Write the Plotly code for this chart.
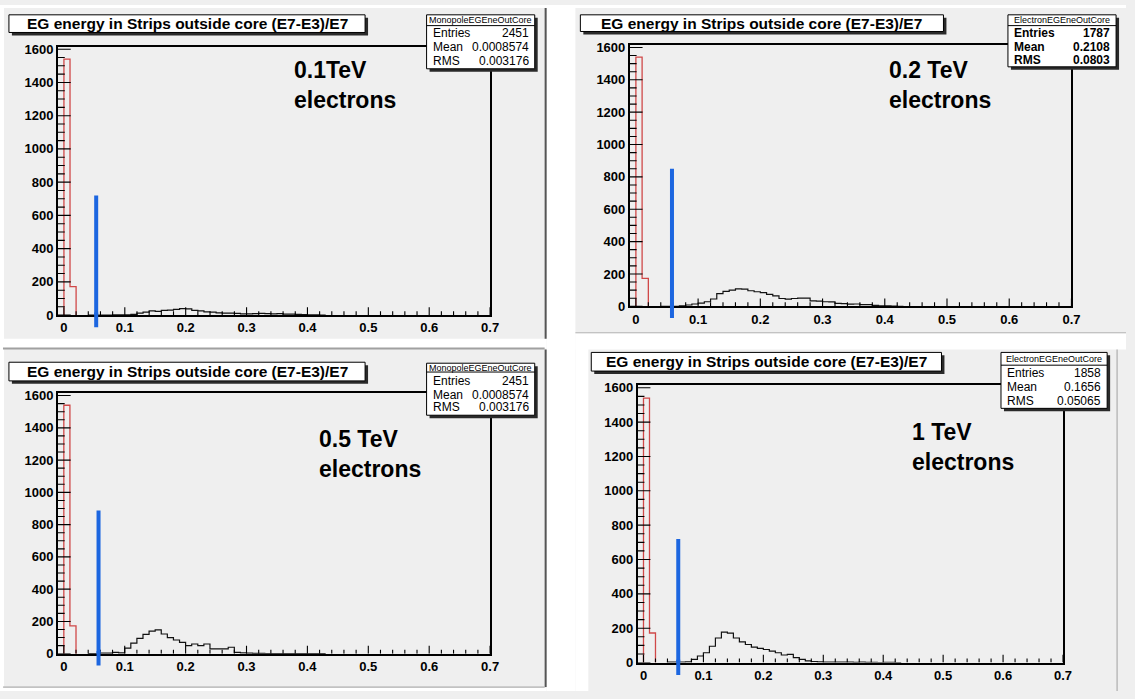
import plotly.graph_objects as go

W, H = 1135, 699

# ---- data -------------------------------------------------------------
BIN_WIDTH = 0.01
MONO_START = 0.0
ELEC_START = 0.04

# monopole reference histogram (red), identical in every pad
monopole_counts = [1540, 172]

# electron histograms (black), 0.01-wide bins starting at 0.04
electron_01tev = [0, 0, 0, 0, 1, 2, 2, 4, 12, 18, 25, 22, 28, 30, 34, 39, 38, 28, 26, 20,
                  18, 14, 12, 12, 10, 8, 7, 9, 11, 9, 7, 9, 6, 6, 4, 3, 2, 1, 0]
electron_02tev = [0, 0, 0, 3, 8, 14, 20, 28, 45, 78, 92, 100, 108, 106, 96, 90, 84, 74, 64, 48,
                  44, 48, 50, 50, 34, 32, 28, 27, 18, 16, 13, 14, 10, 10, 6, 3, 2, 1, 0]
electron_05tev = [0, 0, 4, 3, 8, 5, 35, 65, 95, 120, 140, 148, 122, 100, 85, 70, 50, 60, 50, 60,
                  30, 30, 30, 40, 8, 5, 3, 2, 2, 1, 1, 1, 0, 1, 0, 0, 0, 0, 0]
electron_1tev = [2, 3, 3, 4, 19, 38, 57, 95, 143, 177, 171, 143, 120, 105, 90, 82, 76, 67, 57, 44,
                 48, 29, 19, 10, 6, 4, 3, 3, 2, 2, 2, 1, 2, 1, 1, 0, 1, 1, 0]
electron_sets = [electron_01tev, electron_02tev, electron_05tev, electron_1tev]

# cut position and height of the blue marker
cut_positions = [0.053, 0.058, 0.057, 0.058]
cut_heights = [720, 850, 888, 720]

energy_labels = ["0.1TeV", "0.2 TeV", "0.5 TeV", "1 TeV"]
hist_names = ["MonopoleEGEneOutCore", "ElectronEGEneOutCore",
              "MonopoleEGEneOutCore", "ElectronEGEneOutCore"]
stat_entries = ["2451", "1787", "2451", "1858"]
stat_means = ["0.0008574", "0.2108", "0.0008574", "0.1656"]
stat_rms = ["0.003176", "0.0803", "0.003176", "0.05065"]

TITLE = "EG energy in Strips outside core (E7-E3)/E7"
X_RANGE = [-0.01, 0.7]
Y_MAX = 1615

# tick layout of the ROOT-style frame
X_MAJOR = [k / 10 for k in range(0, 8)]
X_MINOR = [k / 100 for k in range(0, 71, 2) if k % 10 != 0]
Y_MAJOR = list(range(0, 1601, 200))
Y_MINOR = [v for v in range(0, 1601, 50) if v % 200 != 0]

# ---- pad geometry (pixels) -------------------------------------------
pads = [
    dict(frame=(58.3, 42.5, 494.0, 316.0),
         title=(9, 10, 368, 28), stats=(430, 10, 539, 65), sep=21, rows=(29, 43, 57),
         note=(294, 82), stat_weight="normal",
         lines=[(550, 3, 550, 340, "#555555", 2)]),
    dict(frame=(634.7, 40.8, 1080.0, 307.0),
         title=(585, 10, 951, 27), stats=(1016, 10, 1125, 63), sep=21, rows=(29, 43, 56),
         note=(894, 82), stat_weight="bold",
         lines=[(580, 334, 1135, 334, "#b0b0b0", 1)]),
    dict(frame=(58.2, 395.5, 494.0, 661.0),
         title=(9, 364, 368, 383), stats=(430, 365, 539, 418), sep=374, rows=(383, 397, 410),
         note=(320, 457), stat_weight="normal",
         lines=[(3, 350, 549, 350, "#a0a0a0", 2), (550, 351, 550, 695, "#555555", 2),
                (3, 695, 549, 695, "#a0a0a0", 1)]),
    dict(frame=(642.6, 387.4, 1071.5, 670.0),
         title=(596, 354, 949, 373), stats=(1009, 354, 1116, 411), sep=367, rows=(375, 389, 403),
         note=(917, 450), stat_weight="normal",
         lines=[(1126, 351, 1126, 699, "#a0a0a0", 1)]),
]

# white gaps between the four pads (x0, y0, x1, y1)
gaps = [
    (0, 0, 1135, 3),
    (0, 0, 4, 699),
    (551, 0, 580, 699),
    (580, 334, 593, 699),
    (0, 340, 551, 350),
    (580, 334, 1135, 351),
    (0, 696, 551, 699),
]

FONT = "Liberation Sans, Arial, sans-serif"
BG = "#efefef"


def px(x):
    return x / W


def py(y):
    return 1 - y / H


def step_xy(start, counts):
    edges = [start + i * BIN_WIDTH for i in range(len(counts) + 1)]
    xs = [edges[0]] + edges
    ys = [0] + list(counts) + [0]
    return xs, ys


def tick_segments(fw, fh):
    """Inward tick marks along the bottom and left frame edges, in axis units."""
    x_span = X_RANGE[1] - X_RANGE[0]
    xs, ys = [], []
    for vals, length in ((X_MAJOR, 8), (X_MINOR, 4)):
        h = length * Y_MAX / fh
        for v in vals:
            xs += [v, v, None]
            ys += [0, h, None]
    for vals, length in ((Y_MAJOR, 13), (Y_MINOR, 7)):
        w = length * x_span / fw
        for v in vals:
            xs += [X_RANGE[0], X_RANGE[0] + w, None]
            ys += [v, v, None]
    return xs, ys


fig = go.Figure()
shapes = []
annotations = []
layout_axes = {}

for (gx0, gy0, gx1, gy1) in gaps:
    shapes.append(dict(type="rect", xref="paper", yref="paper",
                       x0=px(gx0), x1=px(gx1), y0=py(gy1), y1=py(gy0),
                       fillcolor="white", line=dict(width=0)))

for i, pad in enumerate(pads):
    n = "" if i == 0 else str(i + 1)
    xa, ya = "x" + n, "y" + n
    left, top, right, bottom = pad["frame"]
    fw, fh = right - left, bottom - top

    for (lx0, ly0, lx1, ly1, lc, lw) in pad["lines"]:
        shapes.append(dict(type="line", xref="paper", yref="paper",
                           x0=px(lx0), x1=px(lx1), y0=py(ly0), y1=py(ly1),
                           line=dict(color=lc, width=lw)))

    # histograms
    mx, my = step_xy(MONO_START, monopole_counts)
    ex, ey = step_xy(ELEC_START, electron_sets[i])
    fig.add_trace(go.Scatter(x=ex, y=ey, mode="lines", line_shape="hv",
                             line=dict(color="#111111", width=1.2),
                             xaxis=xa, yaxis=ya, showlegend=False, hoverinfo="skip"))
    fig.add_trace(go.Scatter(x=mx, y=my, mode="lines", line_shape="hv",
                             line=dict(color="#d04848", width=1.3),
                             xaxis=xa, yaxis=ya, showlegend=False, hoverinfo="skip"))

    # frame tick marks
    tx, ty = tick_segments(fw, fh)
    fig.add_trace(go.Scatter(x=tx, y=ty, mode="lines", connectgaps=False,
                             line=dict(color="black", width=1.1),
                             xaxis=xa, yaxis=ya, showlegend=False, hoverinfo="skip"))

    # blue cut marker: main segment in data units, short overshoot below the axis
    cx = cut_positions[i]
    shapes.append(dict(type="line", xref=xa, yref=ya, x0=cx, x1=cx, y0=0, y1=cut_heights[i],
                       line=dict(color="#1c66e0", width=4)))
    shapes.append(dict(type="line", xref=xa, yref=ya + " domain", x0=cx, x1=cx,
                       y0=-0.045, y1=0.01, line=dict(color="#1c66e0", width=4)))

    # frame axes
    axis_font = dict(family=FONT, size=13, color="black", weight="bold")
    common = dict(showgrid=False, zeroline=False, showline=True, mirror=True,
                  linecolor="black", linewidth=1.5, ticks="", tickfont=axis_font)
    layout_axes["xaxis" + n] = dict(
        domain=[px(left), px(right)], anchor=ya, range=X_RANGE,
        tickmode="array", tickvals=X_MAJOR, **common)
    layout_axes["yaxis" + n] = dict(
        domain=[py(bottom), py(top)], anchor=xa, range=[0, Y_MAX],
        tickmode="array", tickvals=Y_MAJOR, **common)

    # title box with shadow
    tx0, ty0, tx1, ty1 = pad["title"]
    shapes.append(dict(type="rect", xref="paper", yref="paper",
                       x0=px(tx0 + 3), x1=px(tx1 + 3), y0=py(ty1 + 3), y1=py(ty0 + 3),
                       fillcolor="#2a2a2a", line=dict(width=0)))
    shapes.append(dict(type="rect", xref="paper", yref="paper",
                       x0=px(tx0), x1=px(tx1), y0=py(ty1), y1=py(ty0),
                       fillcolor="white", line=dict(color="black", width=1)))
    annotations.append(dict(xref="paper", yref="paper", x=px((tx0 + tx1) / 2),
                            y=py((ty0 + ty1) / 2), text=TITLE, showarrow=False,
                            xanchor="center", yanchor="middle",
                            font=dict(family=FONT, size=15.5, color="black", weight="bold")))

    # statistics box with shadow
    sx0, sy0, sx1, sy1 = pad["stats"]
    shapes.append(dict(type="rect", xref="paper", yref="paper",
                       x0=px(sx0 + 3), x1=px(sx1 + 3), y0=py(sy1 + 3), y1=py(sy0 + 3),
                       fillcolor="#2a2a2a", line=dict(width=0)))
    shapes.append(dict(type="rect", xref="paper", yref="paper",
                       x0=px(sx0), x1=px(sx1), y0=py(sy1), y1=py(sy0),
                       fillcolor="white", line=dict(color="black", width=1)))
    shapes.append(dict(type="line", xref="paper", yref="paper",
                       x0=px(sx0), x1=px(sx1), y0=py(pad["sep"]), y1=py(pad["sep"]),
                       line=dict(color="black", width=1)))
    annotations.append(dict(xref="paper", yref="paper", x=px((sx0 + sx1) / 2),
                            y=py((sy0 + pad["sep"]) / 2), text=hist_names[i],
                            showarrow=False, xanchor="center", yanchor="middle",
                            font=dict(family=FONT, size=9, color="black")))
    stat_font = dict(family=FONT, size=12, color="black", weight=pad["stat_weight"])
    for label, value, ry in zip(["Entries", "Mean", "RMS"],
                                [stat_entries[i], stat_means[i], stat_rms[i]], pad["rows"]):
        annotations.append(dict(xref="paper", yref="paper", x=px(sx0 + 4), y=py(ry),
                                text=label, showarrow=False, xanchor="left",
                                yanchor="middle", font=stat_font))
        annotations.append(dict(xref="paper", yref="paper", x=px(sx1 - 4), y=py(ry),
                                text=value, showarrow=False, xanchor="right",
                                yanchor="middle", font=stat_font))

    # beam energy label
    nx, ny = pad["note"]
    annotations.append(dict(xref="paper", yref="paper", x=px(nx), y=py(ny),
                            text=energy_labels[i] + "<br>electrons", showarrow=False,
                            xanchor="left", yanchor="middle", align="left",
                            font=dict(family=FONT, size=23, color="black", weight="bold")))

fig.update_layout(
    width=W, height=H,
    margin=dict(l=0, r=0, t=0, b=0),
    paper_bgcolor=BG, plot_bgcolor=BG,
    showlegend=False,
    shapes=shapes, annotations=annotations,
    **layout_axes,
)

fig.write_html("out.html")
